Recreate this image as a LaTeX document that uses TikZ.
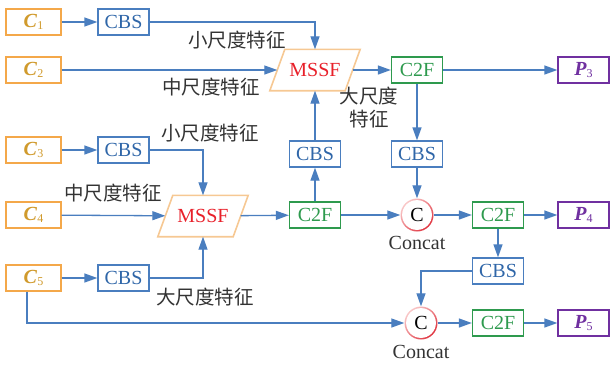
\documentclass[tikz,border=0pt]{standalone}
\usepackage{fontspec}
\setmainfont{Liberation Serif}
\newfontfamily\cjk{Noto Sans CJK SC}
\usetikzlibrary{shapes.geometric,arrows.meta}
\definecolor{corange}{HTML}{F4A84A}
\definecolor{ctext}{HTML}{D09A2C}
\definecolor{cblue}{HTML}{4A7EBF}
\definecolor{ctblue}{HTML}{2F66A8}
\definecolor{cgreen}{HTML}{2E9A4E}
\definecolor{cpurple}{HTML}{7030A0}
\definecolor{cmssf}{HTML}{F6C893}
\definecolor{cred}{HTML}{E8202A}
\definecolor{ccatl}{HTML}{F9C8C8}
\definecolor{ccatd}{HTML}{E03440}
\definecolor{clabel}{HTML}{333333}
\tikzset{
  base/.style={inner sep=0pt, minimum height=26pt, line width=1.3pt, font=\fontsize{20}{22}\selectfont},
  cin/.style={base, draw=corange, text=ctext, minimum width=55pt},
  cbs/.style={base, draw=cblue, text=ctblue, minimum width=51pt},
  ctwo/.style={base, draw=cgreen, text=cgreen, minimum width=51pt},
  pout/.style={base, draw=cpurple, text=cpurple, minimum width=51pt},
  mssf/.style={rectangle, text=cred, minimum width=75pt, minimum height=41pt, inner sep=0pt,
     font=\fontsize{20}{22}\selectfont},
  mssfedge/.style={draw=cmssf, line width=1.6pt, line join=miter},
  cat/.style={circle, minimum size=33pt, inner sep=0pt, font=\fontsize{20}{22}\selectfont},
  ring/.style={left color=ccatl, right color=ccatd, shading angle=45},
  lab/.style={text=clabel, inner sep=0pt, font=\cjk\fontsize{19.5}{23}\selectfont},
  catlab/.style={text=clabel, inner sep=0pt, font=\fontsize{20}{22}\selectfont},
  arr/.style={draw=cblue, line width=1.3pt, -{Triangle[length=13pt,width=9pt]}},
}
\newcommand{\Cin}[1]{\textbf{\textit{C}}\raisebox{-0.25ex}{\fontsize{12}{12}\selectfont #1}}
\newcommand{\Pout}[1]{\textbf{\textit{P}}\raisebox{-0.25ex}{\fontsize{12}{12}\selectfont #1}}
\newcommand{\mssfshape}[1]{\draw[mssfedge] ([xshift=7.5pt]#1.north west) -- ([xshift=7.5pt]#1.north east) -- ([xshift=-7.5pt]#1.south east) -- ([xshift=-7.5pt]#1.south west) -- cycle;}
\begin{document}
\begin{tikzpicture}[x=1pt,y=-1pt]
\useasboundingbox (0,0) rectangle (610,365);
% concat rings
\coordinate (k1c) at (417,215);
\coordinate (k2c) at (421,323);
\shade[ring] (k1c) circle (16.5pt);
\fill[white] (k1c) circle (14.9pt);
\shade[ring] (k2c) circle (16.5pt);
\fill[white] (k2c) circle (14.9pt);
% row 1-2
\node[cin] (c1) at (33.5,22) {\Cin{1}};
\node[cbs] (cbs1) at (123.5,22) {CBS};
\node[cin] (c2) at (33.5,70) {\Cin{2}};
\node[mssf] (m1) at (315,70) {MSSF};
\node[ctwo] (f1) at (417,70) {C2F};
\node[pout] (p3) at (583.5,70) {\Pout{3}};
% row 3
\node[cin] (c3) at (33.5,150) {\Cin{3}};
\node[cbs] (cbs3) at (123.5,150) {CBS};
\node[cbs] (cbs2) at (315,154) {CBS};
\node[cbs] (cbsr) at (417,154) {CBS};
% row 4
\node[cin] (c4) at (33.5,215) {\Cin{4}};
\node[mssf] (m2) at (203,216) {MSSF};
\node[ctwo] (f2) at (315,215) {C2F};
\node[cat] (k1) at (k1c) {C};
\node[ctwo] (f3) at (498,215) {C2F};
\node[pout] (p4) at (583.5,215) {\Pout{4}};
\node[cbs] (cbs4) at (498,271) {CBS};
% row 5
\node[cin] (c5) at (33.5,278) {\Cin{5}};
\node[cbs] (cbs5) at (123.5,278) {CBS};
\node[cat] (k2) at (k2c) {C};
\node[ctwo] (f4) at (498,323) {C2F};
\node[pout] (p5) at (583.5,323) {\Pout{5}};
\mssfshape{m1}
\mssfshape{m2}
% labels
\node[lab] (l1) at (237,40) {小尺度特征};
\node[lab] (l2) at (211,87) {中尺度特征};
\node[lab, align=center] (l3) at (369,108) {大尺度\\特征};
\node[lab] (l4) at (210,133) {小尺度特征};
\node[lab] (l5) at (113,193) {中尺度特征};
\node[lab] (l6) at (205,297) {大尺度特征};
\node[catlab] (t1) at (417,243) {Concat};
\node[catlab] (t2) at (421,352) {Concat};
% connectors
\draw[arr] (c1) -- (cbs1);
\draw[arr] (cbs1.east) -| (m1.north);
\draw[arr] (c2) -- (m1);
\draw[arr] (m1) -- (f1);
\draw[arr] (f1) -- (p3);
\draw[arr] (f1) -- (cbsr);
\draw[arr] (cbsr) -- (k1);
\draw[arr] (c3) -- (cbs3);
\draw[arr] (cbs3.east) -| (m2.north);
\draw[arr] (c4) -- (m2);
\draw[arr] (m2) -- (f2);
\draw[arr] (f2) -- (cbs2);
\draw[arr] (cbs2) -- (m1.south);
\draw[arr] (f2) -- (k1);
\draw[arr] (k1) -- (f3);
\draw[arr] (f3) -- (p4);
\draw[arr] (f3) -- (cbs4);
\draw[arr] (cbs4.west) -| (k2.north);
\draw[arr] (c5) -- (cbs5);
\draw[arr] (cbs5.east) -| (m2.south);
\draw[arr] ([xshift=-6.5pt]c5.south) |- (k2.west);
\draw[arr] (k2) -- (f4);
\draw[arr] (f4) -- (p5);
\end{tikzpicture}
\end{document}
